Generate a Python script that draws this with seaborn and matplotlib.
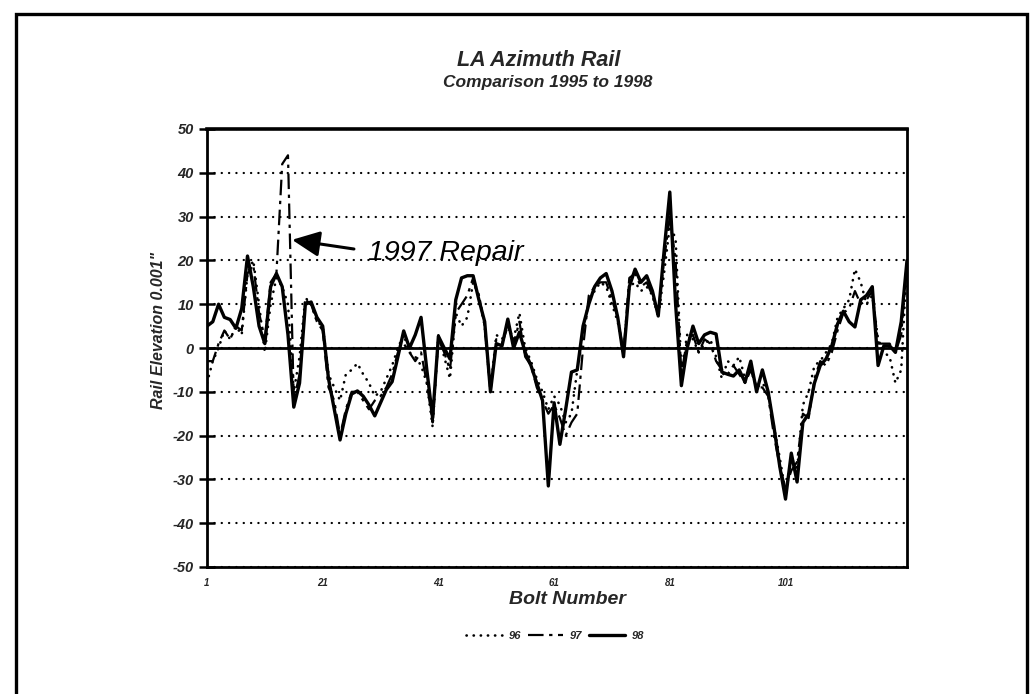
import numpy as np
import pandas as pd
import seaborn as sns
import matplotlib.pyplot as plt
from matplotlib.patches import Rectangle
from matplotlib.lines import Line2D

# ---------------- data ----------------
bolts = list(range(1, 123))

rail_96 = [-8, -3, 0, 4, 2, 5, 3, 17, 20, 10,
           -1, 10, 16, 14, 10, -10, -2, 11.5, 10, 6,
           5, -6, -9, -12, -6, -5, -3.5, -6, -8, -11,
           -10, -7, -4, 0, 3, -1, -2, -4, -8, -18,
           3, -2, -7, 8, 5, 7, 15, 12, 5, -10,
           3, 2, 5, 2, 8, 0, -3, -7, -10, -14,
           -11, -13, -17, -15, -5, 3, 11, 13, 15, 14,
           10, 6, -1, 14, 15, 13, 14, 12, 7, 17,
           28, 25, -5, 3, 2, -1, 1, 2, -2, -7,
           -3, -4, -2, -7, -5, -9, -8, -10, -18, -25,
           -33, -25, -28, -13, -10, -4, -3, -1, 1, 7,
           9, 11, 18, 15, 10, 12, 2, -1, -2, -8,
           -5, 20]

rail_97 = [-3, -3, 1, 4, 2, 5, 4, 17, 19, 8,
           2, 15, 17, 42, 44, -12, -6, 11, 10, 6,
           4, -9, -12, -20, -14, -10, -10, -12, -14, -12,
           -11, -9, -6, -1, 1, -1, -3, -1, -8, -17,
           2, -1, -5, 8, 10, 12, 16, 12, 5, -10,
           2, 1, 5, 1, 6, -2, -4, -9, -12, -15,
           -13, -16, -20, -17, -15, 0, 12, 14, 15, 15,
           11, 7, -1, 16, 17, 14, 15, 12, 8, 20,
           30, 20, -6, 2, 3, -1, 2, 1, -3, -5,
           -6, -4, -6, -8, -5, -9, -9, -11, -20, -27,
           -32, -28, -26, -15, -16, -7, -3, -4, -1, 4,
           8, 9, 13, 10, 11, 13, 1, 1, 1, -1,
           3, 20]

rail_98 = [5, 6, 10, 7, 6.5, 4.5, 9, 21, 14, 5,
           1, 14, 17, 14, 3, -13.5, -8, 10, 10.5, 7,
           5, -7, -14, -21, -15, -10.5, -9.8, -11, -13, -15.5,
           -12.5, -9.5, -7.7, -2, 3.9, 0, 3, 7, -5, -16,
           2.7, 0, -2.5, 11, 16, 16.5, 16.5, 11, 6, -10,
           1, 0.5, 6.6, 0, 3.6, -1, -4, -8, -12, -31.5,
           -12.5, -22, -14, -5.5, -5, 5, 10, 14, 16, 17,
           13, 7, -2, 14, 18, 15, 16.5, 13, 7.3, 22,
           35.6, 10, -8.6, 0, 5, 1, 3, 3.6, 3.2, -5.5,
           -6, -6.4, -5, -7.8, -3, -10, -5, -10, -18, -27,
           -34.5, -24, -30.6, -17, -15, -8, -4, -2.5, 0.5, 5.5,
           8.4, 6, 4.8, 11, 12, 14, -4, 0.5, 0.5, -1,
           6, 20]

years = ["96", "97", "98"]
x_ticks = [1, 21, 41, 61, 81, 101]
y_ticks = list(range(-50, 51, 10))

# ---------------- style ----------------
sns.set_theme(style="white")
plt.rcParams['font.family'] = ['Liberation Sans', 'DejaVu Sans']
plt.rcParams['axes.unicode_minus'] = False

W, H = 1036, 694
fig = plt.figure(figsize=(W / 100, H / 100), dpi=100)
ax = fig.add_axes([207 / W, 1 - 567 / H, 700 / W, 438 / H])

df = pd.DataFrame({
    "Bolt": bolts * 3,
    "Elev": rail_96 + rail_97 + rail_98,
    "Year": [years[0]] * len(bolts) + [years[1]] * len(bolts) + [years[2]] * len(bolts),
})

styles = {
    "96": dict(linestyle=(0, (0.1, 2.6)), lw=1.9, dash_capstyle="round"),
    "97": dict(linestyle=(0, (7, 2.5, 1.5, 2.5)), lw=1.6),
    "98": dict(linestyle="-", lw=2.4),
}

for yr in years:
    sub = df[df["Year"] == yr]
    sns.lineplot(data=sub, x="Bolt", y="Elev", color="black", ax=ax,
                 legend=False, estimator=None, **styles[yr])

ax.set_xlim(1, 122)
ax.set_ylim(-50, 50)
ax.set_yticks(y_ticks)
ax.set_xticks(x_ticks)
ax.set_xticklabels([str(t) for t in x_ticks])

ax.yaxis.grid(True, linestyle=(0, (0.1, 3.2)), color="black", lw=1.6,
              dash_capstyle="round")
ax.xaxis.grid(False)
ax.axhline(0, color="black", lw=2.0, zorder=1)

for s in ax.spines.values():
    s.set_color("black")
    s.set_linewidth(2.0)
ax.spines["top"].set_linewidth(2.6)

ax.tick_params(axis="y", direction="inout", length=11, width=1.8,
               color="black", left=True, pad=4)
ax.tick_params(axis="x", length=0, pad=8)
for lab in ax.get_yticklabels():
    lab.set_fontsize(10.5)
    lab.set_fontweight("bold")
    lab.set_fontstyle("italic")
for lab in ax.get_xticklabels():
    lab.set_fontsize(7)
    lab.set_fontweight("bold")
    lab.set_fontstyle("italic")

ax.set_xlabel("Bolt Number", fontsize=14, fontweight="bold",
              fontstyle="italic", labelpad=4)
ax.xaxis.set_label_coords(0.515, -0.055)
ax.set_ylabel('Rail Elevation 0.001"', fontsize=11.5, fontweight="bold",
              fontstyle="italic", labelpad=6)
ax.yaxis.set_label_coords(-0.058, 0.54)

# annotation
ax.annotate("", xy=(15.7, 24.7), xytext=(26.4, 22.6),
            arrowprops=dict(arrowstyle="-|>,head_length=1.4,head_width=0.65",
                            color="black", lw=2.2, shrinkA=0, shrinkB=0))
ax.text(28.8, 20.0, "1997 Repair", fontsize=20.5, fontstyle="italic",
        ha="left", va="baseline", color="black")

# titles
fig.text(539 / W, 1 - 61 / H, "LA Azimuth Rail", ha="center", va="center",
         fontsize=15.5, fontweight="bold", fontstyle="italic")
fig.text(548 / W, 1 - 82 / H, "Comparison 1995 to 1998", ha="center",
         va="center", fontsize=12.5, fontweight="bold", fontstyle="italic")

# legend
handles = [Line2D([], [], color="black", **styles[y]) for y in years]
fig.legend(handles, years, loc="center", bbox_to_anchor=(555 / W, 1 - 636 / H),
           ncol=3, frameon=False, handlelength=3.2, handletextpad=0.6,
           columnspacing=0.6,
           prop=dict(size=8, weight="bold", style="italic"))

# outer border
fig.patches.append(Rectangle((16 / W, -0.02), (1027 - 16) / W, (H - 14) / H + 0.02,
                             transform=fig.transFigure, fill=False,
                             ec="black", lw=2.4))

fig.savefig("out.png", dpi=100, facecolor="white")
